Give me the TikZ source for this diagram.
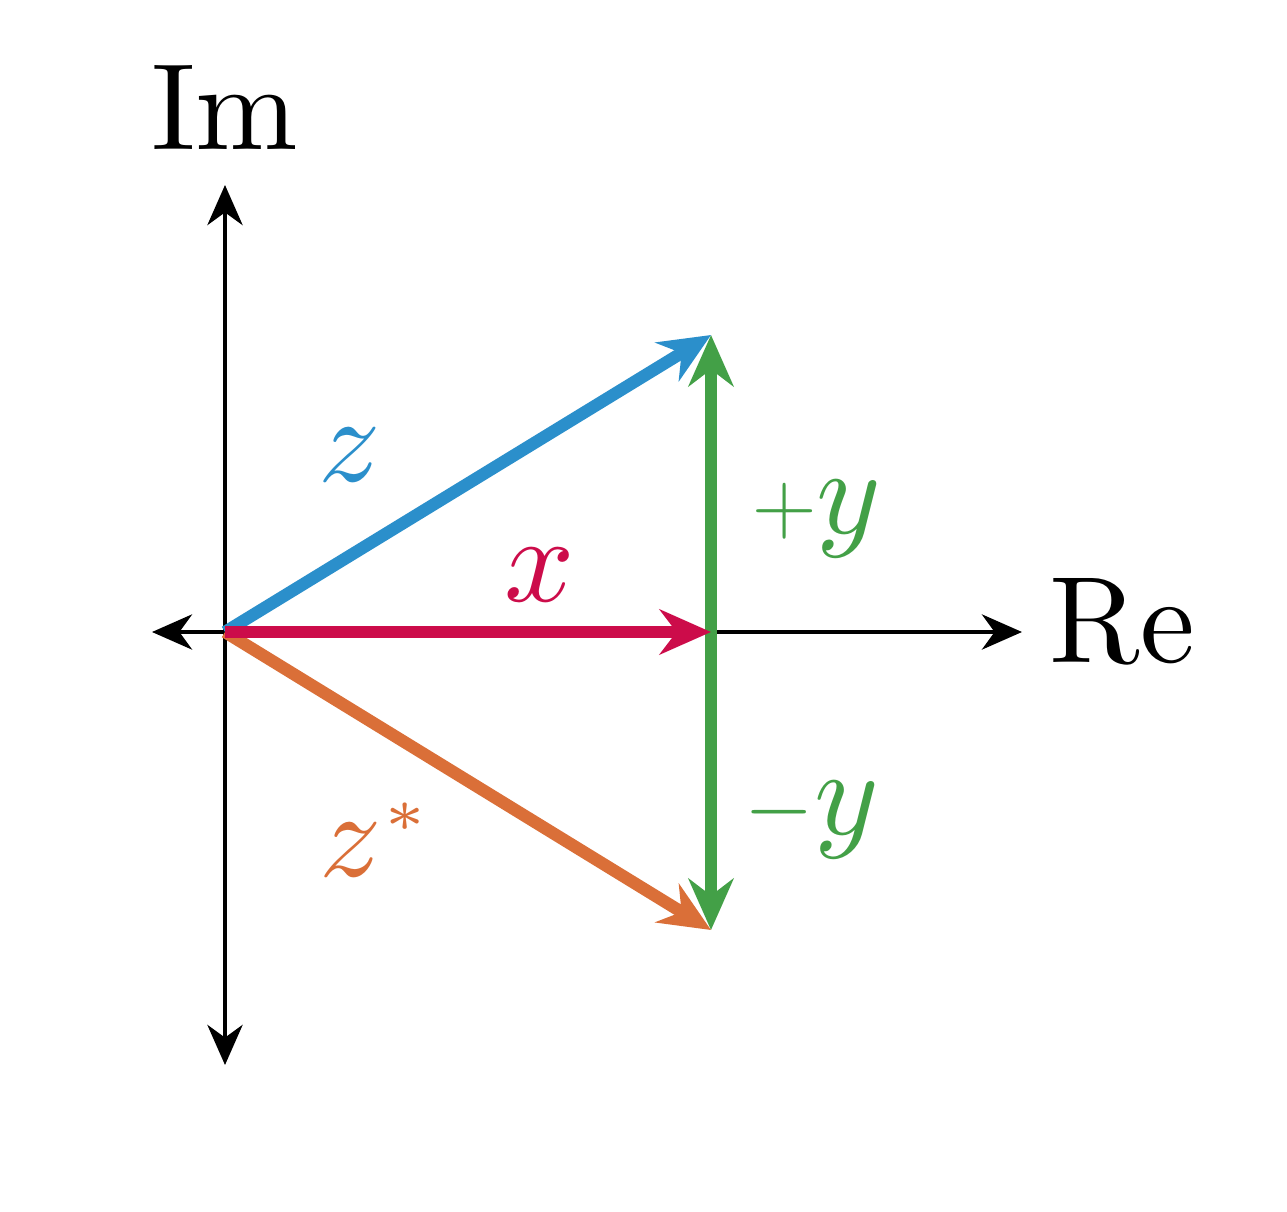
\documentclass[tikz,border=0pt]{standalone}
\usepackage{amsmath,amssymb}
\usepackage{tikz}
\usepackage{xcolor}
\usetikzlibrary{arrows.meta}
\definecolor{zblue}{HTML}{2B8FCB}
\definecolor{zstarorange}{HTML}{DA6F38}
\definecolor{xred}{HTML}{CC0C4A}
\definecolor{ygreen}{HTML}{43A047}
\newcommand{\thinsign}[1]{\scalebox{0.42}{\fontsize{17}{17}\selectfont$#1$}}

\begin{document}
\begin{tikzpicture}[
  axis/.style={line width=0.6pt, {Stealth[length=5.7pt,width=5pt,inset=1.8pt]}-{Stealth[length=5.7pt,width=5pt,inset=1.8pt]}},
  vec/.style={line width=1.75pt, -{Stealth[length=7.3pt,width=6.4pt,inset=2.4pt]}},
  lbl/.style={scale=1.75, transform shape, inner sep=0pt}
]
\useasboundingbox (-1.125,-2.9) rectangle (5.31,3.16);
\coordinate (O) at (0,0);
\coordinate (P) at (2.43,1.485);
\coordinate (Q) at (2.43,-1.49);
\coordinate (X) at (2.43,0);
\draw[axis] (-0.365,0) -- (3.985,0);
\draw[axis] (0,-2.165) -- (0,2.235);
\node[lbl, anchor=base west] (re) at (4.11,-0.15) {Re};
\node[lbl, anchor=base] (im) at (0,2.415) {Im};
\draw[vec, ygreen, {Stealth[length=7.3pt,width=6.4pt,inset=2.4pt]}-{Stealth[length=7.3pt,width=6.4pt,inset=2.4pt]}] (Q) -- (P);
\draw[vec, zblue] (O) -- (P);
\draw[vec, zstarorange] (O) -- (Q);
\draw[vec, xred] (O) -- (X);
\node[lbl, zblue] (zl) at (0.625,0.885) {$z$};
\node[lbl, xred] (xl) at (1.575,0.285) {$x$};
\node[lbl, ygreen] (py) at (2.96,0.565) {\thinsign{+}$y$};
\node[lbl, ygreen] (my) at (2.935,-0.94) {\thinsign{-}$y$};
\node[lbl, zstarorange] (zs) at (0.76,-1.04) {$z^{\scriptscriptstyle *}$};
\end{tikzpicture}
\end{document}
